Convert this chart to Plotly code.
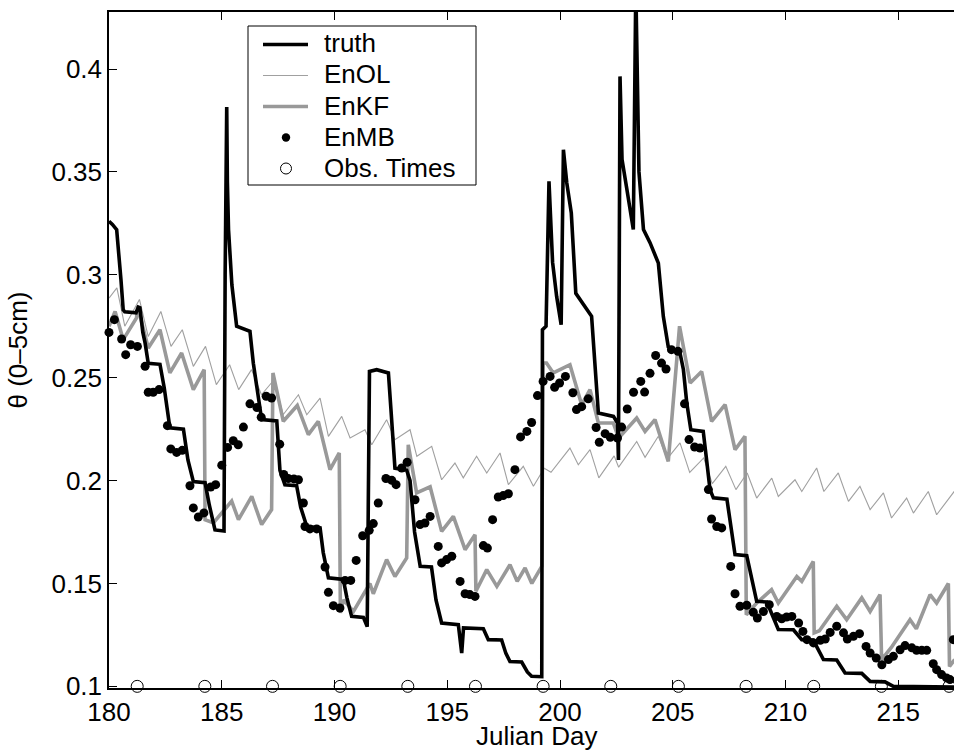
import plotly.graph_objects as go

# ---------------- data ----------------
truth_day = [180.00, 180.15, 180.34, 180.45, 180.53, 180.63, 180.70, 181.20, 181.30, 181.37, 181.50, 181.60, 181.74,
             182.26, 182.45, 182.70, 183.30, 183.50, 183.74, 184.26, 184.45, 184.70, 185.10, 185.15, 185.22, 185.25,
             185.30, 185.45, 185.66, 186.25, 186.40, 186.77, 187.44, 187.58, 187.80, 188.32, 188.50, 188.77, 189.36,
             189.50, 189.73, 190.39, 190.55, 190.76, 191.28, 191.45, 191.50, 191.55, 191.87, 192.39, 192.50, 192.68,
             193.20, 193.35, 193.55, 193.80, 194.30, 194.50, 194.75, 195.49, 195.64, 195.72, 196.60, 196.82, 197.41,
             197.60, 197.78, 198.30, 198.55, 198.74, 199.19, 199.22, 199.38, 199.45, 199.51, 199.67, 199.85, 200.05,
             200.15, 200.30, 200.40, 200.50, 200.70, 201.18, 201.40, 201.70, 202.37, 202.55, 202.59, 202.66, 202.75,
             202.95, 203.25, 203.36, 203.50, 203.70, 203.99, 204.36, 204.58, 204.80, 205.32, 205.47, 205.62, 205.80,
             206.35, 206.50, 206.65, 206.80, 207.40, 207.76, 208.28, 208.72, 209.17, 209.68, 210.35, 210.72, 211.23,
             211.68, 212.27, 212.64, 213.38, 213.75, 214.41, 214.78, 217.50]
truth_val = [0.3260, 0.3245, 0.3219, 0.3100, 0.2976, 0.2830, 0.2820, 0.2815, 0.2843, 0.2840, 0.2720, 0.2669, 0.2570,
             0.2565, 0.2450, 0.2256, 0.2250, 0.2100, 0.1995, 0.1990, 0.1880, 0.1760, 0.1755, 0.3000, 0.3815, 0.3450,
             0.3220, 0.2950, 0.2750, 0.2725, 0.2570, 0.2296, 0.2290, 0.2050, 0.1980, 0.1975, 0.1870, 0.1777, 0.1770,
             0.1650, 0.1527, 0.1520, 0.1430, 0.1340, 0.1335, 0.1290, 0.2000, 0.2530, 0.2539, 0.2523, 0.2350, 0.2060,
             0.2050, 0.2000, 0.1750, 0.1583, 0.1580, 0.1420, 0.1308, 0.1300, 0.1162, 0.1284, 0.1280, 0.1227, 0.1225,
             0.1160, 0.1121, 0.1118, 0.1070, 0.1049, 0.1047, 0.2733, 0.2750, 0.3100, 0.3454, 0.3060, 0.2895, 0.2757,
             0.3608, 0.3446, 0.3365, 0.3300, 0.2910, 0.2830, 0.2798, 0.2328, 0.2312, 0.2280, 0.2100, 0.3964, 0.3560,
             0.3425, 0.3220, 0.4400, 0.3500, 0.3220, 0.3156, 0.3057, 0.2798, 0.2650, 0.2620, 0.2540, 0.2377, 0.2247,
             0.2239, 0.2100, 0.1956, 0.1916, 0.1910, 0.1640, 0.1635, 0.1413, 0.1410, 0.1276, 0.1275, 0.1227, 0.1225,
             0.1130, 0.1128, 0.1065, 0.1063, 0.1024, 0.1022, 0.1000, 0.0997]

enol_day = [180.00, 180.35, 180.70, 181.35, 181.74, 182.30, 182.75, 183.25, 183.74, 184.28, 184.76, 185.35, 185.75,
            186.32, 186.76, 187.32, 187.72, 188.40, 188.77, 189.36, 189.73, 190.32, 190.69, 191.35, 191.65, 192.31,
            192.68, 193.35, 193.65, 194.31, 194.75, 195.34, 195.71, 196.30, 196.75, 197.34, 197.71, 198.37, 198.82,
            199.30, 199.60, 200.44, 200.81, 201.33, 201.72, 202.40, 202.60, 203.40, 203.77, 204.36, 204.75, 205.32,
            205.75, 206.37, 206.75, 207.35, 207.80, 208.30, 208.72, 209.39, 209.68, 210.42, 210.72, 211.38, 211.70,
            212.34, 212.79, 213.30, 213.75, 214.34, 214.70, 215.37, 215.67, 216.33, 216.70, 217.44, 217.50]
enol_val = [0.2887, 0.2936, 0.2750, 0.2880, 0.2700, 0.2822, 0.2652, 0.2733, 0.2555, 0.2652, 0.2466, 0.2563, 0.2442,
            0.2539, 0.2417, 0.2490, 0.2320, 0.2417, 0.2320, 0.2401, 0.2215, 0.2312, 0.2207, 0.2247, 0.2174, 0.2296,
            0.2199, 0.2247, 0.2118, 0.2166, 0.2004, 0.2085, 0.2013, 0.2118, 0.2037, 0.2134, 0.1980, 0.2069, 0.1972,
            0.2060, 0.2040, 0.2158, 0.2077, 0.2150, 0.2013, 0.2120, 0.2065, 0.2190, 0.2113, 0.2215, 0.2105, 0.2183,
            0.2040, 0.2110, 0.1985, 0.2069, 0.1956, 0.2037, 0.1915, 0.2012, 0.1923, 0.2004, 0.1947, 0.2061, 0.1947,
            0.2037, 0.1899, 0.1972, 0.1859, 0.1940, 0.1818, 0.1915, 0.1842, 0.1947, 0.1834, 0.1947, 0.1950]

enkf_day = [180.00, 180.27, 180.63, 181.22, 181.27, 181.74, 182.26, 182.70, 183.22, 183.74, 184.22, 184.26, 184.63,
            185.44, 185.74, 186.33, 186.77, 187.21, 187.27, 187.73, 188.35, 188.84, 189.28, 189.80, 190.21, 190.26,
            190.40, 190.84, 191.57, 191.72, 192.31, 192.68, 193.20, 193.27, 193.64, 194.24, 194.75, 195.27, 195.79,
            196.23, 196.27, 196.75, 197.20, 197.78, 198.10, 198.45, 198.75, 199.19, 199.25, 199.40, 199.70, 200.44,
            200.96, 201.33, 201.70, 202.36, 202.60, 203.40, 203.77, 204.21, 204.80, 205.30, 205.77, 206.28, 206.72,
            207.32, 207.76, 208.20, 208.26, 208.72, 209.38, 209.68, 210.50, 210.72, 211.23, 211.27, 211.50, 212.27,
            212.71, 213.38, 213.75, 214.19, 214.26, 214.70, 215.52, 215.80, 216.41, 216.70, 217.22, 217.27, 217.50]
enkf_val = [0.2750, 0.2822, 0.2685, 0.2790, 0.2847, 0.2644, 0.2733, 0.2523, 0.2620, 0.2442, 0.2539, 0.1810, 0.1794,
            0.1900, 0.1810, 0.1923, 0.1786, 0.1859, 0.2523, 0.2288, 0.2365, 0.2223, 0.2288, 0.2053, 0.2134, 0.1357,
            0.1420, 0.1364, 0.1500, 0.1450, 0.1616, 0.1534, 0.1624, 0.2174, 0.1940, 0.1970, 0.1753, 0.1826, 0.1664,
            0.1737, 0.1462, 0.1567, 0.1486, 0.1591, 0.1510, 0.1575, 0.1500, 0.1583, 0.2571, 0.2571, 0.2523, 0.2563,
            0.2369, 0.2442, 0.2280, 0.2280, 0.2207, 0.2304, 0.2239, 0.2296, 0.2093, 0.2750, 0.2474, 0.2530, 0.2288,
            0.2369, 0.2150, 0.2215, 0.1348, 0.1405, 0.1470, 0.1405, 0.1534, 0.1510, 0.1607, 0.1260, 0.1270, 0.1389,
            0.1324, 0.1430, 0.1364, 0.1446, 0.1130, 0.1190, 0.1324, 0.1280, 0.1446, 0.1405, 0.1500, 0.1097, 0.1130]

enmb_day = [180.00, 180.24, 180.56, 180.74, 180.96, 181.26, 181.60, 181.74, 181.96, 182.22, 182.59, 182.74, 183.00,
            183.25, 183.59, 183.74, 183.96, 184.21, 184.51, 184.73, 185.00, 185.26, 185.51, 185.73, 185.96, 186.25,
            186.56, 186.75, 186.97, 187.21, 187.57, 187.75, 187.95, 188.20, 188.40, 188.62, 188.69, 188.91, 189.21,
            189.58, 189.73, 189.95, 190.24, 190.47, 190.72, 190.96, 191.25, 191.54, 191.72, 191.94, 192.28, 192.54,
            192.73, 192.98, 193.22, 193.57, 193.79, 194.01, 194.24, 194.60, 194.75, 194.97, 195.20, 195.57, 195.79,
            196.00, 196.23, 196.60, 196.78, 197.01, 197.26, 197.48, 197.71, 198.00, 198.25, 198.53, 198.74, 199.00,
            199.25, 199.56, 199.76, 199.98, 200.24, 200.57, 200.73, 200.96, 201.25, 201.60, 201.74, 202.00, 202.23,
            202.55, 202.73, 202.98, 203.26, 203.58, 203.75, 203.99, 204.24, 204.50, 204.70, 204.94, 205.23, 205.52,
            205.72, 205.97, 206.21, 206.58, 206.72, 206.95, 207.17, 207.57, 207.76, 207.98, 208.28, 208.57, 208.75,
            209.02, 209.28, 209.61, 209.83, 210.05, 210.28, 210.58, 210.77, 210.95, 211.24, 211.54, 211.76, 211.98,
            212.27, 212.57, 212.74, 213.01, 213.28, 213.57, 213.75, 214.02, 214.27, 214.56, 214.78, 215.08, 215.30,
            215.60, 215.81, 216.04, 216.26, 216.55, 216.70, 216.92, 217.14, 217.29, 217.44]
enmb_val = [0.2720, 0.2782, 0.2688, 0.2612, 0.2660, 0.2652, 0.2555, 0.2429, 0.2429, 0.2442, 0.2267, 0.2154, 0.2137,
            0.2147, 0.1975, 0.1867, 0.1823, 0.1843, 0.1969, 0.1980, 0.2075, 0.2161, 0.2194, 0.2174, 0.2260, 0.2373,
            0.2355, 0.2308, 0.2410, 0.2401, 0.2177, 0.2030, 0.2010, 0.2008, 0.2004, 0.1891, 0.1777, 0.1765, 0.1765,
            0.1580, 0.1457, 0.1392, 0.1381, 0.1515, 0.1515, 0.1612, 0.1732, 0.1758, 0.1791, 0.1891, 0.2010, 0.2001,
            0.1980, 0.2061, 0.2089, 0.1907, 0.1786, 0.1794, 0.1826, 0.1680, 0.1600, 0.1616, 0.1632, 0.1510, 0.1450,
            0.1446, 0.1437, 0.1684, 0.1672, 0.1810, 0.1920, 0.1927, 0.1936, 0.2053, 0.2212, 0.2239, 0.2282, 0.2413,
            0.2482, 0.2506, 0.2453, 0.2474, 0.2506, 0.2427, 0.2345, 0.2359, 0.2397, 0.2258, 0.2186, 0.2228, 0.2210,
            0.2207, 0.2260, 0.2348, 0.2429, 0.2482, 0.2430, 0.2521, 0.2608, 0.2571, 0.2542, 0.2636, 0.2628, 0.2373,
            0.2199, 0.2163, 0.2158, 0.1956, 0.1813, 0.1777, 0.1770, 0.1583, 0.1450, 0.1389, 0.1394, 0.1360, 0.1332,
            0.1364, 0.1397, 0.1340, 0.1328, 0.1337, 0.1340, 0.1308, 0.1267, 0.1227, 0.1211, 0.1224, 0.1230, 0.1262,
            0.1292, 0.1260, 0.1230, 0.1243, 0.1256, 0.1194, 0.1162, 0.1138, 0.1105, 0.1130, 0.1146, 0.1178, 0.1198,
            0.1187, 0.1175, 0.1175, 0.1175, 0.1110, 0.1081, 0.1057, 0.1041, 0.1033, 0.1227]

obs_day = [181.25, 184.25, 187.25, 190.25, 193.25, 196.25, 199.25, 202.25, 205.25, 208.25, 211.25, 214.25, 217.25]
obs_val = [0.1] * len(obs_day)

legend_names = ["truth", "EnOL", "EnKF", "EnMB", "Obs. Times"]

x_ticks = [180, 185, 190, 195, 200, 205, 210, 215]
y_ticks = [0.1, 0.15, 0.2, 0.25, 0.3, 0.35, 0.4]
y_tick_text = ["0.1", "0.15", "0.2", "0.25", "0.3", "0.35", "0.4"]

x_title = "Julian Day"
y_title = "θ (0–5cm)"

# ---------------- figure ----------------
FONT = "Liberation Sans, Arial, Helvetica, sans-serif"
W, H = 954, 750
ML, MR, MT, MB = 109, 0, 12, 62
PW, PH = W - ML - MR, H - MT - MB

BLACK = "black"
GRAY = "#999999"
LIGHT = "#a0a0a0"

fig = go.Figure()
fig.add_trace(go.Scatter(x=enol_day, y=enol_val, mode="lines", name="EnOL",
                         line=dict(color=LIGHT, width=1.1)))
fig.add_trace(go.Scatter(x=enkf_day, y=enkf_val, mode="lines", name="EnKF",
                         line=dict(color=GRAY, width=3.6)))
fig.add_trace(go.Scatter(x=truth_day, y=truth_val, mode="lines", name="truth",
                         line=dict(color=BLACK, width=3.6)))
fig.add_trace(go.Scatter(x=enmb_day, y=enmb_val, mode="markers", name="EnMB",
                         marker=dict(color=BLACK, size=9, line=dict(width=0)), cliponaxis=False))
fig.add_trace(go.Scatter(x=obs_day, y=obs_val, mode="markers", name="Obs. Times",
                         marker=dict(symbol="circle-open", color=BLACK, size=12, line=dict(width=1)),
                         cliponaxis=False))


# ---- helpers: pixel -> paper coordinates ----
def px(xp):
    return (xp - ML) / PW


def py(yp):
    return 1 - (yp - MT) / PH


shapes = []
annotations = []

# ---- legend box drawn in paper space (to match the reference's box layout) ----
box_l, box_r, box_t, box_b = 248, 476, 26, 185
shapes.append(dict(type="rect", xref="paper", yref="paper", x0=px(box_l), x1=px(box_r), y0=py(box_b), y1=py(box_t),
                   line=dict(color=BLACK, width=1), fillcolor="white", layer="above"))
row_y = [44.5, 75.5, 106.5, 137.5, 168.5]
line_styles = [(BLACK, 3.6), (LIGHT, 1.1), (GRAY, 3.6)]
for i, (col, wid) in enumerate(line_styles):
    shapes.append(dict(type="line", xref="paper", yref="paper", x0=px(263), x1=px(308), y0=py(row_y[i]),
                       y1=py(row_y[i]), line=dict(color=col, width=wid), layer="above"))
shapes.append(dict(type="circle", xref="paper", yref="paper", x0=px(281.8), x1=px(290.2), y0=py(row_y[3] + 4.2),
                   y1=py(row_y[3] - 4.2), fillcolor=BLACK, line=dict(color=BLACK, width=0), layer="above"))
shapes.append(dict(type="circle", xref="paper", yref="paper", x0=px(280.5), x1=px(291.5), y0=py(row_y[4] + 5.5),
                   y1=py(row_y[4] - 5.5), fillcolor="white", line=dict(color=BLACK, width=1), layer="above"))
for i, name in enumerate(legend_names):
    annotations.append(dict(text=name, xref="paper", yref="paper", x=px(322), y=py(row_y[i] - 1),
                            xanchor="left", yanchor="middle", showarrow=False,
                            font=dict(size=26, family=FONT, color=BLACK)))

# ---- x-axis title placed just under the tick labels, as in the reference ----
annotations.append(dict(text=x_title, xref="paper", yref="paper", x=px(536), y=py(736),
                        xanchor="center", yanchor="middle", showarrow=False,
                        font=dict(size=26, family=FONT, color=BLACK)))

fig.update_layout(
    width=W, height=H,
    margin=dict(l=ML, r=MR, t=MT, b=MB),
    paper_bgcolor="white", plot_bgcolor="white",
    font=dict(family=FONT, size=26, color=BLACK),
    showlegend=False,
    shapes=shapes, annotations=annotations,
    xaxis=dict(range=[180, 217.47], tickvals=x_ticks, ticks="inside", ticklen=8, tickwidth=1,
               tickcolor=BLACK, showline=True, linecolor=BLACK, linewidth=1.5, mirror="ticks",
               showgrid=False, zeroline=False, tickfont=dict(size=26)),
    yaxis=dict(range=[0.0992, 0.4277], tickvals=y_ticks, ticktext=y_tick_text, ticks="inside", ticklen=8,
               tickwidth=1, tickcolor=BLACK, showline=True, linecolor=BLACK, linewidth=1.5, mirror=False,
               showgrid=False, zeroline=False, tickfont=dict(size=26),
               title=dict(text=y_title, font=dict(size=26), standoff=16)),
)

fig.write_html("out.html")
